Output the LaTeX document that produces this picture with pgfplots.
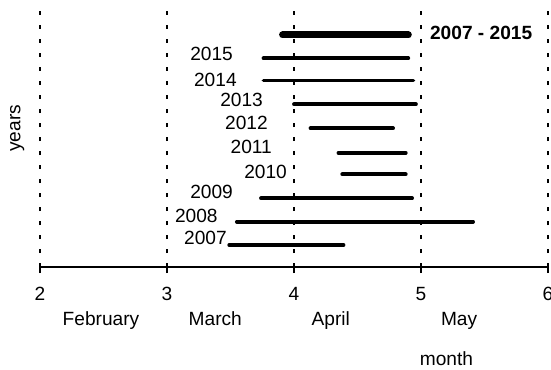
\documentclass[border=0pt]{standalone}
\usepackage{pgfplots}
\pgfplotsset{compat=1.18}
\usepackage{fontspec}
\setmainfont{Liberation Sans}
\begin{document}
\begin{tikzpicture}[x=1bp,y=1bp,font=\fontsize{19.2}{23}\selectfont]
\useasboundingbox (0,0) rectangle (551,369);
\begin{axis}[
  at={(40bp,102bp)}, anchor=south west,
  scale only axis, width=508bp, height=259bp,
  xmin=2, xmax=6, ymin=0.057, ymax=11.157,
  axis x line=bottom, axis y line=none,
  x axis line style={line width=1.5bp, -},
  xtick={2,3,4,5,6},
  tick align=outside, major tick length=6bp,
  tick style={line width=1.5bp, black},
  xmajorgrids,
  grid style={black, line width=2.5bp, dash pattern=on 4bp off 10bp},
  ytick=\empty,
  clip=false,
  /pgf/number format/assume math mode=true,
  xticklabel style={font=\fontsize{19.2}{23}\selectfont, yshift=-11bp},
  every axis plot/.append style={black, line cap=round},
]
% bars (start, end) in months
\addplot[line width=7bp] coordinates {(3.91,10) (4.90,10)};
\addplot[line width=3.8bp] coordinates {(3.76,9) (4.90,9)};
\addplot[line width=3.8bp] coordinates {(3.76,8.05) (4.94,8.05)};
\addplot[line width=3.8bp] coordinates {(4.00,7.03) (4.96,7.03)};
\addplot[line width=3.8bp] coordinates {(4.13,6) (4.78,6)};
\addplot[line width=3.8bp] coordinates {(4.35,4.95) (4.88,4.95)};
\addplot[line width=3.8bp] coordinates {(4.38,4.03) (4.88,4.03)};
\addplot[line width=3.8bp] coordinates {(3.74,3) (4.93,3)};
\addplot[line width=3.8bp] coordinates {(3.55,2) (5.41,2)};
\addplot[line width=3.8bp] coordinates {(3.49,1) (4.39,1)};
% year labels
\begin{scope}[every node/.style={inner sep=0pt, anchor=east}]
\node at (axis cs:3.52,9.19) {2015};
\node at (axis cs:3.55,8.07) {2014};
\node at (axis cs:3.756,7.215) {2013};
\node at (axis cs:3.795,6.23) {2012};
\node at (axis cs:3.827,5.2) {2011};
\node at (axis cs:3.945,4.13) {2010};
\node at (axis cs:3.52,3.27) {2009};
\node at (axis cs:3.40,2.24) {2008};
\node at (axis cs:3.472,1.30) {2007};
\end{scope}
\node[inner sep=0pt, anchor=west, font=\fontsize{19.2}{23}\selectfont\bfseries] at (axis cs:5.07,10.09) {2007 - 2015};
% month names
\begin{scope}[every node/.style={inner sep=0pt, anchor=base}]
\node at (axis cs:2.48,-2.47) {February};
\node at (axis cs:3.38,-2.47) {March};
\node at (axis cs:4.29,-2.47) {April};
\node at (axis cs:5.30,-2.47) {May};
\node at (axis cs:5.20,-4.17) {month};
\end{scope}
\node[rotate=90] at (axis cs:1.82,6.0) {years};
\end{axis}
\end{tikzpicture}
\end{document}
